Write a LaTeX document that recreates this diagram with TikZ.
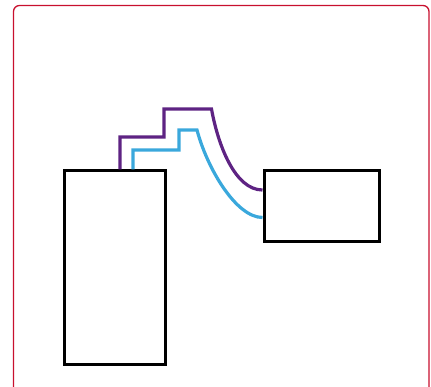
\documentclass[tikz,border=0pt]{standalone}
\usepackage{xcolor}
\usepackage{tikz}
\definecolor{framered}{HTML}{C8102E}
\definecolor{wirepurple}{HTML}{5E2383}
\definecolor{wireblue}{HTML}{3AA8DC}

\begin{document}
\begin{tikzpicture}[x=1pt,y=-1pt,
  unit/.style={draw,line width=3pt,inner sep=0pt},
  wire/.style={line width=3.2pt,line join=miter}]
  \useasboundingbox (0,0) rectangle (431,387);
  \draw[framered, line width=1.3pt, rounded corners=6pt] (13.5,5.5) rectangle (429,398);
  \node[unit,minimum width=101pt,minimum height=193pt] (lbox) at (114.5,267.5) {};
  \node[unit,minimum width=115pt,minimum height=71pt] (rbox) at (321.5,206.5) {};
  \draw[wire, wirepurple] ([xshift=5.5pt]lbox.north) |- (164,137) |- (211.5,109)
    .. controls (218,145) and (235,190) .. ([yshift=16.5pt]rbox.west);
  \draw[wire, wireblue] ([xshift=18.5pt]lbox.north) |- (179,150) |- (197,130)
    .. controls (207,168) and (236,217.5) .. ([yshift=-11pt]rbox.west);
\end{tikzpicture}
\end{document}
